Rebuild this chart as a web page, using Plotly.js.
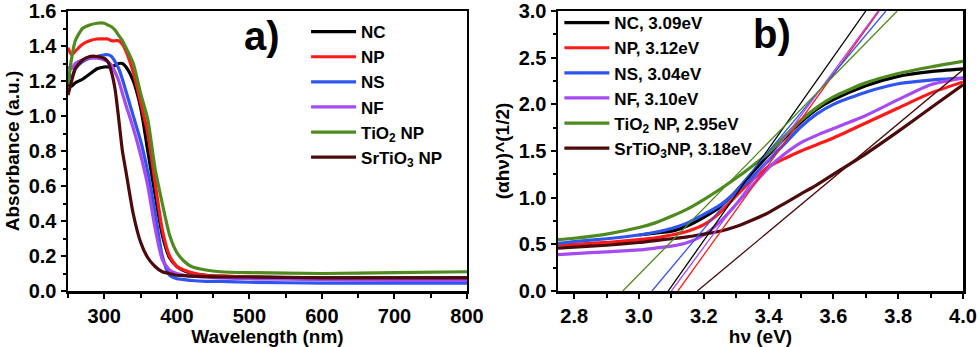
<!DOCTYPE html>
<html>
<head>
<meta charset="utf-8">
<script src="https://cdn.plot.ly/plotly-3.0.1.min.js"></script>
<style>
  html, body { margin: 0; padding: 0; background: #fff; }
  #chart { width: 980px; height: 347px; }
</style>
</head>
<body>
<div id="chart"></div>
<script>
// ---- panel a) absorbance spectra ----
const wavelength = [250, 255, 260, 270, 280, 290, 300, 305, 310, 315, 320, 325, 330, 340, 350, 360, 370, 380, 390, 400, 410, 420, 440, 460, 500, 600, 700, 800];
const absNC   = [1.18, 1.17, 1.19, 1.21, 1.24, 1.27, 1.28, 1.28, 1.28, 1.29, 1.30, 1.30, 1.28, 1.20, 1.05, 0.80, 0.55, 0.32, 0.19, 0.14, 0.115, 0.10, 0.09, 0.085, 0.08, 0.075, 0.075, 0.075];
const absNP   = [1.39, 1.35, 1.37, 1.41, 1.43, 1.44, 1.44, 1.44, 1.43, 1.43, 1.43, 1.41, 1.37, 1.25, 1.08, 0.90, 0.62, 0.35, 0.20, 0.14, 0.12, 0.105, 0.09, 0.085, 0.08, 0.07, 0.065, 0.06];
const absNS   = [1.25, 1.22, 1.27, 1.31, 1.33, 1.34, 1.35, 1.35, 1.34, 1.31, 1.27, 1.21, 1.14, 1.00, 0.86, 0.68, 0.45, 0.20, 0.09, 0.07, 0.065, 0.06, 0.055, 0.055, 0.05, 0.045, 0.045, 0.045];
const absNF   = [1.28, 1.27, 1.30, 1.32, 1.33, 1.33, 1.32, 1.31, 1.29, 1.25, 1.20, 1.13, 1.06, 0.93, 0.78, 0.60, 0.36, 0.18, 0.12, 0.10, 0.09, 0.085, 0.08, 0.075, 0.07, 0.065, 0.06, 0.06];
const absTiO2 = [1.18, 1.33, 1.43, 1.50, 1.52, 1.53, 1.53, 1.52, 1.51, 1.49, 1.46, 1.43, 1.39, 1.30, 1.13, 0.98, 0.70, 0.50, 0.32, 0.22, 0.17, 0.14, 0.12, 0.11, 0.105, 0.10, 0.105, 0.11];
const absSrTiO3 = [1.12, 1.20, 1.27, 1.32, 1.34, 1.34, 1.33, 1.31, 1.25, 1.15, 0.98, 0.80, 0.68, 0.44, 0.28, 0.19, 0.14, 0.11, 0.10, 0.09, 0.088, 0.085, 0.082, 0.08, 0.08, 0.075, 0.075, 0.075];

// ---- panel b) Tauc plot ----
const energy = [2.75, 2.8, 2.9, 3.0, 3.05, 3.1, 3.15, 3.2, 3.25, 3.3, 3.35, 3.4, 3.45, 3.5, 3.55, 3.6, 3.7, 3.8, 3.9, 4.0];
const taucNC   = [null, null, null, 0.60, 0.62, 0.64, 0.70, 0.79, 0.90, 1.07, 1.27, 1.46, 1.64, 1.81, 1.95, 2.05, 2.20, 2.30, 2.35, 2.38];
const taucNP   = [0.49, 0.50, 0.52, 0.55, 0.57, 0.60, 0.64, 0.71, 0.84, 1.02, 1.19, 1.33, 1.42, 1.50, 1.57, 1.64, 1.80, 1.96, 2.12, 2.24];
const taucNS   = [0.51, 0.53, 0.56, 0.60, 0.63, 0.67, 0.73, 0.82, 0.92, 1.06, 1.22, 1.40, 1.58, 1.76, 1.90, 2.00, 2.13, 2.22, 2.26, 2.28];
const taucNF   = [0.39, 0.40, 0.42, 0.44, 0.46, 0.48, 0.52, 0.60, 0.74, 0.93, 1.13, 1.32, 1.47, 1.59, 1.67, 1.74, 1.88, 2.05, 2.21, 2.28];
const taucTiO2 = [0.55, 0.565, 0.61, 0.68, 0.73, 0.80, 0.88, 0.98, 1.09, 1.21, 1.34, 1.48, 1.66, 1.83, 1.97, 2.08, 2.23, 2.33, 2.40, 2.46];
const taucSrTiO3 = [0.46, 0.47, 0.49, 0.52, 0.54, 0.56, 0.58, 0.61, 0.64, 0.69, 0.76, 0.84, 0.94, 1.04, 1.14, 1.25, 1.47, 1.71, 1.96, 2.21];

// linear fits: start at the band gap (y = 0), end point
const fitGap  = [3.09, 3.12, 3.04, 3.10, 2.95, 3.18];
const fitEndX = [3.70, 3.741, 3.762, 3.738, 3.797, 4.0];
const fitEndY = [3.0, 3.0, 3.0, 3.0, 3.0, 2.37];

const names = ['NC', 'NP', 'NS', 'NF', 'TiO<sub>2</sub> NP', 'SrTiO<sub>3</sub> NP'];
const namesB = ['NC, 3.09eV', 'NP, 3.12eV', 'NS, 3.04eV', 'NF, 3.10eV', 'TiO<sub>2</sub> NP, 2.95eV', 'SrTiO<sub>3</sub>NP, 3.18eV'];
const colors = ['#000000', '#ff1a1a', '#2f55f0', '#a64bf2', '#4f8a1e', '#4d0a0a'];

const absData = [absNC, absNP, absNS, absNF, absTiO2, absSrTiO3];
const taucData = [taucNC, taucNP, taucNS, taucNF, taucTiO2, taucSrTiO3];

const FONT = 'Liberation Sans, Arial, sans-serif';

const traces = [];
absData.forEach((ys, i) => {
  traces.push({
    x: wavelength, y: ys, type: 'scatter', mode: 'lines',
    name: names[i], legend: 'legend',
    line: { color: colors[i], width: 3.2, shape: 'spline', smoothing: 0.6 },
    xaxis: 'x', yaxis: 'y'
  });
});
taucData.forEach((ys, i) => {
  traces.push({
    x: energy, y: ys, type: 'scatter', mode: 'lines',
    name: namesB[i], legend: 'legend2',
    line: { color: colors[i], width: 3.2, shape: 'spline', smoothing: 0.6 },
    xaxis: 'x2', yaxis: 'y2'
  });
});
fitGap.forEach((g, i) => {
  traces.push({
    x: [g, fitEndX[i]], y: [0, fitEndY[i]], type: 'scatter', mode: 'lines',
    showlegend: false, hoverinfo: 'skip',
    line: { color: colors[i], width: 1.3 },
    xaxis: 'x2', yaxis: 'y2'
  });
});

const tickFont = { family: FONT, size: 20, color: '#000', weight: 700 };
const titleFont = { family: FONT, size: 19, color: '#000', weight: 700 };

function axis(extra) {
  return Object.assign({
    showline: true, linecolor: '#000', linewidth: 2.5, mirror: true,
    ticks: 'outside', ticklen: 5, tickwidth: 2, tickcolor: '#000',
    showgrid: false, zeroline: false,
    tickfont: tickFont
  }, extra);
}

const legendBase = {
  font: { family: FONT, size: 17, color: '#000', weight: 700 },
  bgcolor: 'rgba(0,0,0,0)', borderwidth: 0,
  xref: 'paper', yref: 'paper', xanchor: 'left', yanchor: 'top',
  tracegroupgap: 0, itemwidth: 45
};

const layout = {
  width: 980, height: 347,
  // fixed margins: legends must not push the plot areas around
  margin: { l: 68, r: 17, t: 11, b: 56, autoexpand: false },
  paper_bgcolor: '#fff', plot_bgcolor: '#fff',
  showlegend: true,
  xaxis: axis({
    domain: [0, 0.4458], range: [250, 800], dtick: 100, tick0: 0,
    minor: { ticks: 'outside', ticklen: 4, tickwidth: 2, dtick: 50, tickcolor: '#000' },
    title: { text: 'Wavelength (nm)', font: titleFont, standoff: 6 }
  }),
  yaxis: axis({
    range: [0, 1.6], dtick: 0.2, tickformat: '.1f',
    minor: { ticks: 'outside', ticklen: 3, tickwidth: 2, dtick: 0.1, tickcolor: '#000' },
    title: { text: 'Absorbance (a.u.)', font: titleFont, standoff: 4 }
  }),
  xaxis2: axis({
    domain: [0.5475, 1], range: [2.75, 4.0], dtick: 0.2, tick0: 2.8, tickformat: '.1f',
    minor: { ticks: 'outside', ticklen: 4, tickwidth: 2, dtick: 0.1, tickcolor: '#000' },
    title: { text: 'hν (eV)', font: titleFont, standoff: 6 }
  }),
  yaxis2: axis({
    anchor: 'x2', range: [0, 3.0], dtick: 0.5, tickformat: '.1f',
    minor: { ticks: 'outside', ticklen: 3, tickwidth: 2, dtick: 0.25, tickcolor: '#000' },
    title: { text: '(αhν)^(1/2)', font: titleFont, standoff: 4 }
  }),
  legend: Object.assign({}, legendBase, { x: 0.266, y: 0.989 }),
  legend2: Object.assign({}, legendBase, { x: 0.549, y: 1.021 }),
  annotations: [
    { text: 'a)', xref: 'paper', yref: 'paper', x: 0.2173, y: 0.91, xanchor: 'center', yanchor: 'middle',
      showarrow: false, font: { family: FONT, size: 40, color: '#000', weight: 700 } },
    { text: 'b)', xref: 'paper', yref: 'paper', x: 0.7866, y: 0.918, xanchor: 'center', yanchor: 'middle',
      showarrow: false, font: { family: FONT, size: 40, color: '#000', weight: 700 } }
  ]
};

Plotly.newPlot('chart', traces, layout, { displayModeBar: false, staticPlot: true });
</script>
</body>
</html>
